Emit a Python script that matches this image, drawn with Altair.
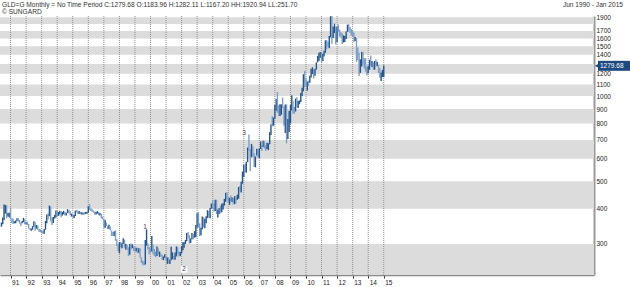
import altair as alt
import pandas as pd

# ---------------- data (monthly, Jun 1990 .. Jan 2015) ----------------
highs = [
    357, 372, 414, 412, 411, 386, 387,                                   # 1990 Jun-Dec
    403, 370, 368, 361, 363, 370, 370, 365, 357, 362, 371, 367,         # 1991
    358, 360, 353, 341, 340, 347, 361, 358, 350, 349, 339, 338,         # 1992
    335, 334, 339, 362, 381, 385, 410, 407, 372, 374, 380, 394,         # 1993
    394, 389, 393, 392, 389, 393, 389, 387, 398, 396, 392, 384,         # 1994
    384, 380, 393, 396, 393, 392, 390, 388, 387, 389, 389, 390,         # 1995
    408, 415, 401, 398, 394, 391, 389, 392, 389, 386, 384, 375,         # 1996
    368, 364, 357, 348, 351, 346, 335, 331, 333, 335, 312, 300,         # 1997
    305, 305, 302, 314, 311, 300, 297, 292, 300, 301, 299, 295,         # 1998
    292, 291, 291, 290, 290, 269, 262, 260, 310, 338, 301, 292,         # 1999
    292, 320, 298, 288, 282, 294, 290, 282, 277, 275, 271, 276,         # 2000
    273, 269, 269, 264, 293, 280, 272, 280, 294, 292, 282, 281,         # 2001
    295, 304, 304, 310, 328, 331, 322, 314, 328, 325, 333, 350,         # 2002
    385, 389, 355, 342, 375, 373, 368, 376, 395, 392, 402, 417,         # 2003
    429, 417, 430, 430, 397, 402, 410, 416, 418, 433, 455, 457,         # 2004
    439, 437, 445, 438, 437, 443, 437, 448, 477, 482, 498, 541,         # 2005
    572, 576, 586, 658, 732, 650, 678, 665, 628, 612, 652, 650,         # 2006
    653, 691, 672, 695, 692, 670, 684, 681, 746, 795, 848, 840,         # 2007
    931, 977, 1033, 928, 935, 935, 988, 918, 934, 935, 830, 885,        # 2008
    930, 1007, 960, 915, 980, 990, 960, 966, 1025, 1070, 1195, 1227,    # 2009
    1161, 1126, 1135, 1181, 1249, 1265, 1245, 1250, 1315, 1388, 1424, 1432,  # 2010
    1425, 1413, 1448, 1575, 1577, 1560, 1632, 1917, 1920.94, 1761, 1804, 1764,  # 2011
    1764, 1792, 1718, 1681, 1668, 1640, 1630, 1693, 1790, 1796, 1755, 1725,  # 2012
    1696, 1679, 1617, 1606, 1487, 1424, 1348, 1433, 1434, 1362, 1362, 1267,  # 2013
    1280, 1345, 1392, 1331, 1315, 1332, 1346, 1323, 1287, 1256, 1212, 1238,  # 2014
    1282.11,                                                             # 2015 Jan
]
lows = [
    345, 352, 365, 384, 370, 375, 372,
    366, 356, 353, 355, 355, 361, 360, 354, 347, 355, 358, 352,
    352, 350, 340, 336, 334, 337, 345, 334, 340, 336, 331, 330,
    328, 326, 326, 337, 355, 366, 376, 361, 350, 356, 369, 372,
    376, 377, 382, 372, 378, 382, 378, 378, 386, 385, 380, 375,
    372, 371, 377, 388, 383, 383, 382, 381, 381, 381, 383, 384,
    387, 395, 393, 390, 388, 381, 381, 384, 379, 378, 370, 367,
    342, 342, 347, 338, 339, 335, 320, 320, 320, 308, 295, 283,
    278, 292, 290, 300, 291, 286, 286, 272, 275, 287, 290, 283,
    283, 282, 278, 279, 268, 257, 253, 251.70, 254, 296, 287, 276,
    280, 282, 276, 272, 269, 272, 276, 270, 271, 264, 263, 268,
    263, 255, 256, 255, 263, 265, 264, 264, 271, 277, 271, 272,
    278, 285, 291, 300, 307, 315, 301, 302, 312, 312, 316, 317,
    342, 343, 320, 322, 338, 343, 341, 355, 370, 372, 370, 400,
    398, 391, 392, 383, 372, 383, 385, 388, 397, 410, 423, 431,
    419, 413, 425, 422, 414, 415, 418, 430, 434, 460, 456, 490,
    518, 538, 536, 584, 640, 543, 608, 612, 561, 560, 617, 608,
    604, 650, 640, 661, 652, 640, 650, 644, 676, 728, 780, 786,
    832, 888, 873, 850, 850, 860, 906, 786, 741, 681, 705, 747,
    800, 890, 866, 866, 882, 913, 908, 936, 953, 1000, 1040, 1075,
    1076, 1045, 1087, 1114, 1163, 1196, 1155, 1180, 1241, 1316, 1330, 1363,
    1308, 1330, 1381, 1422, 1462, 1496, 1478, 1612, 1532, 1605, 1671, 1523,
    1555, 1688, 1628, 1613, 1527, 1548, 1554, 1591, 1687, 1692, 1672, 1635,
    1626, 1555, 1565, 1321, 1338, 1179, 1208, 1272, 1292, 1251, 1221, 1182,
    1204, 1239, 1277, 1268, 1240, 1240, 1280, 1275, 1206, 1161, 1131, 1167,
    1167.20,
]
closes = [
    352, 372, 387, 408, 380, 382, 386,
    366, 362, 355, 357, 360, 368, 363, 356, 354, 358, 367, 353,
    354, 353, 341, 337, 337, 343, 357, 340, 349, 339, 334, 333,
    330, 327, 337, 355, 378, 377, 401, 372, 355, 370, 370, 391,
    378, 381, 390, 375, 386, 386, 383, 385, 395, 389, 383, 383,
    376, 376, 391, 389, 385, 387, 384, 384, 384, 382, 387, 387,
    405, 400, 396, 392, 391, 382, 385, 387, 379, 379, 371, 369,
    345, 363, 348, 340, 345, 336, 326, 325, 332, 311, 296, 290,
    302, 297, 301, 307, 292, 296, 289, 273, 294, 292, 294, 288,
    286, 287, 280, 286, 268, 262, 255, 254, 299, 300, 291, 288,
    283, 293, 278, 275, 272, 288, 276, 278, 274, 265, 270, 274,
    266, 267, 258, 264, 267, 271, 265, 275, 293, 279, 275, 279,
    282, 297, 303, 309, 326, 318, 305, 312, 324, 317, 318, 348,
    368, 347, 335, 339, 364, 346, 354, 375, 388, 386, 398, 416,
    400, 396, 427, 388, 394, 395, 391, 410, 418, 429, 452, 438,
    423, 435, 428, 436, 417, 437, 430, 435, 473, 470, 495, 517,
    569, 556, 583, 654, 643, 614, 633, 626, 599, 604, 648, 632,
    650, 672, 662, 683, 659, 650, 666, 672, 743, 794, 783, 838,
    923, 972, 916, 865, 886, 928, 913, 833, 884, 718, 818, 884,
    928, 942, 916, 884, 979, 927, 954, 955, 1008, 1040, 1182, 1096,
    1081, 1118, 1113, 1180, 1213, 1244, 1181, 1248, 1307, 1359, 1386, 1420,
    1332, 1411, 1439, 1563, 1536, 1500, 1628, 1826, 1620, 1716, 1746, 1566,
    1738, 1710, 1669, 1664, 1562, 1604, 1614, 1688, 1776, 1720, 1713, 1676,
    1663, 1578, 1595, 1476, 1393, 1234, 1313, 1396, 1326, 1323, 1250, 1202,
    1244, 1326, 1284, 1296, 1250, 1322, 1282, 1287, 1210, 1171, 1175, 1183.96,
    1279.68,
]
first_open = 350

y_ticks = [300, 400, 500, 600, 700, 800, 900, 1000, 1100, 1200, 1400, 1500, 1600, 1700, 1900]
year_ticks = list(range(1991, 2016))
band_lows = [200, 400, 600, 800, 1000, 1200, 1400, 1600, 1800]
band_highs = [300, 500, 700, 900, 1100, 1300, 1500, 1700, 1900]

last_price = 1279.68
header = "GLD=G Monthly =  No Time Period   C:1279.68 O:1183.96 H:1282.11 L:1167.20 HH:1920.94 LL:251.70"
credit = "\u00a9 SUNGARD"
range_text = "Jun 1990  -  Jan 2015"

ann_text = ["1", "3", "2"]
ann_date = ["1999-08-25", "2006-01-08", "2002-03-01"]
ann_value = [345, 740, 244]

# ---------------- build tables ----------------
n = len(closes)
assert len(highs) == n and len(lows) == n, (len(highs), len(lows), n)
dates = pd.date_range("1990-06-01", periods=n, freq="MS").strftime("%Y-%m-%d")
opens = [first_open] + closes[:-1]
opens[-1] = 1183.96
df = pd.DataFrame({"date": dates, "high": highs, "low": lows, "close": closes, "open": opens})
df["dir"] = ["up" if c >= o else "down" for c, o in zip(df["close"], df["open"])]

bands = pd.DataFrame({"lo": band_lows, "hi": band_highs})
years = pd.DataFrame({"date": [f"{y}-01-01" for y in year_ticks]})
ann = pd.DataFrame({"t": ann_text, "date": ann_date, "v": ann_value})
box2 = pd.DataFrame({"date": [ann_date[2]], "v": [ann_value[2]]})
price = pd.DataFrame({"v": [last_price], "t": [f"{last_price:.2f}"]})
hdr = pd.DataFrame({"t": [header], "c": [credit], "r": [range_text]})

FONT = "Liberation Sans"
W, H = 594, 259

x_scale = alt.Scale(type="utc",
                    domain=[alt.DateTime(year=1990, month=4, date=28, utc=True),
                            alt.DateTime(year=2028, month=7, date=10, utc=True)])
y_scale = alt.Scale(type="log", domain=[233, 1920])

x_axis = alt.Axis(values=[alt.DateTime(year=y, month=1, date=1, utc=True) for y in year_ticks],
                  labelExpr="utcFormat(datum.value, '%y')", title=None, grid=False,
                  domainColor="#8a8a8a", domainWidth=1.5, tickColor="#333333", tickSize=3,
                  labelFont=FONT, labelFontSize=6.5, labelColor="#222222",
                  labelAlign="left", labelOffset=1, labelPadding=1)
y_axis = alt.Axis(values=y_ticks, orient="right", title=None, grid=False,
                  domainColor="#9a9a9a", domainWidth=2, ticks=False, labelPadding=2,
                  labelFont=FONT, labelFontSize=6.5, labelColor="#222222", format="d")

band_layer = alt.Chart(bands).mark_rect(color="#dcdcdc", clip=True).encode(
    y=alt.Y("lo:Q", scale=y_scale, axis=y_axis), y2="hi:Q")

grid_layer = alt.Chart(years).mark_rule(color="#8f8f8f", strokeDash=[1, 1], strokeWidth=1).encode(
    x=alt.X("date:T", scale=x_scale, axis=x_axis),
    y=alt.value(0), y2=alt.value(H))

bars = alt.Chart(df).mark_rule(strokeWidth=1.4).encode(
    x=alt.X("date:T", scale=x_scale, axis=x_axis),
    y=alt.Y("low:Q", scale=y_scale, axis=y_axis),
    y2="high:Q",
    color=alt.Color("dir:N", scale=alt.Scale(domain=["up", "down"], range=["#26558c", "#7d9ec6"]), legend=None),
)

ann_box = alt.Chart(box2).mark_point(shape="square", filled=True, color="white", opacity=1, size=45).encode(
    x=alt.X("date:T", scale=x_scale, axis=x_axis), y=alt.Y("v:Q", scale=y_scale, axis=y_axis))
ann_layer = alt.Chart(ann).mark_text(font=FONT, fontSize=6.5, color="#4a4040", baseline="middle").encode(
    x=alt.X("date:T", scale=x_scale, axis=x_axis), y=alt.Y("v:Q", scale=y_scale, axis=y_axis), text="t:N")

price_box = alt.Chart(price).mark_rect(color="#1f4a80", yOffset=-5, y2Offset=5).encode(
    x=alt.value(598), x2=alt.value(630),
    y=alt.Y("v:Q", scale=y_scale, axis=y_axis), y2="v:Q")
price_arrow = alt.Chart(price).mark_point(shape="triangle-left", filled=True, color="#1f4a80", opacity=1, size=22).encode(
    x=alt.value(597), y=alt.Y("v:Q", scale=y_scale, axis=y_axis))
price_text = alt.Chart(price).mark_text(font=FONT, fontSize=6.5, color="white", align="left", baseline="middle").encode(
    x=alt.value(600), y=alt.Y("v:Q", scale=y_scale, axis=y_axis), text="t:N")

hdr1 = alt.Chart(hdr).mark_text(font=FONT, fontSize=6.6, color="#333333", align="left", baseline="middle").encode(
    x=alt.value(2), y=alt.value(-11), text="t:N")
hdr2 = alt.Chart(hdr).mark_text(font=FONT, fontSize=6.6, color="#333333", align="left", baseline="middle").encode(
    x=alt.value(2), y=alt.value(-4), text="c:N")
hdr3 = alt.Chart(hdr).mark_text(font=FONT, fontSize=6.6, color="#333333", align="right", baseline="middle").encode(
    x=alt.value(623), y=alt.value(-11), text="r:N")

chart = alt.layer(
    band_layer, grid_layer, bars, ann_box, ann_layer,
    price_box, price_arrow, price_text, hdr1, hdr2, hdr3,
).properties(
    width=W, height=H,
    padding={"left": 0, "top": 16, "right": 36, "bottom": 12},
    autosize=alt.AutoSizeParams(type="none"),
    background="white",
).configure_view(stroke=None).configure_axis(grid=False)

chart.save("out.html", embed_options={"renderer": "svg", "actions": False})
